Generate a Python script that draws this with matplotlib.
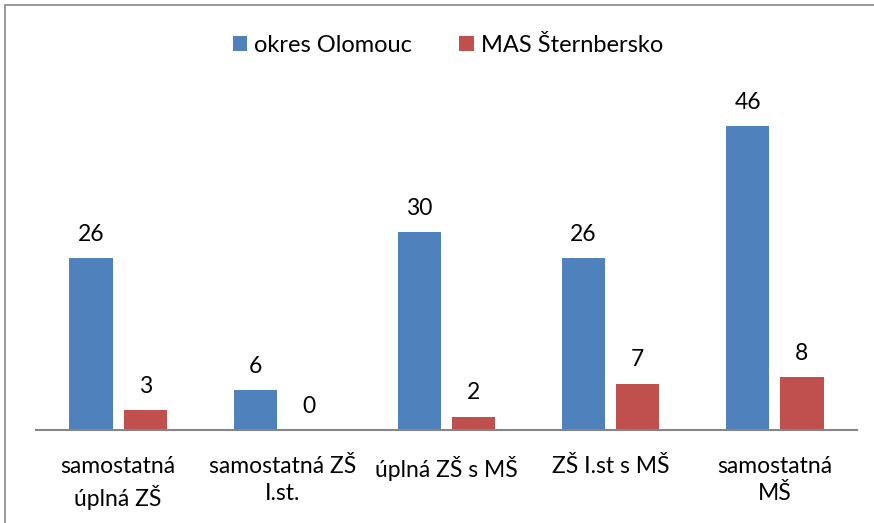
import matplotlib
matplotlib.use("Agg")
import matplotlib.pyplot as plt
import numpy as np
from matplotlib.patches import Rectangle

categories = ["samostatná\núplná ZŠ", "samostatná ZŠ\nI.st.", "úplná ZŠ s MŠ", "ZŠ I.st s MŠ", "samostatná\nMŠ"]
series_names = ["okres Olomouc", "MAS Šternbersko"]
okres = [26, 6, 30, 26, 46]
mas = [3, 0, 2, 7, 8]
colors = ["#4F81BD", "#C0504D"]

plt.rcParams['font.family'] = ['Lato', 'DejaVu Sans']
FS = 16.5

fig = plt.figure(figsize=(8.74, 5.23), dpi=100)
ax = fig.add_axes([36/874, 1-430/523, 821/874, 330/523])

x = np.arange(len(categories))
w = 0.262
off = 0.165
b1 = ax.bar(x - off, okres, width=w, color=colors[0], label=series_names[0])
b2 = ax.bar(x + off, mas, width=w, color=colors[1], label=series_names[1])

for bars, vals in ((b1, okres), (b2, mas)):
    for rect, v in zip(bars, vals):
        ax.annotate(str(v), (rect.get_x() + rect.get_width()/2, rect.get_height()),
                    xytext=(0, 12.5), textcoords='offset points', ha='center', va='baseline',
                    fontsize=FS, color='black')

ax.set_xlim(-0.5, len(categories) - 0.5)
ax.set_ylim(0, 50)
ax.set_xticks(x)
ax.set_xticklabels(categories, fontsize=FS, linespacing=1.35)
ax.tick_params(axis='x', length=0, pad=19)
ax.set_yticks([])
for s in ['top', 'right', 'left']:
    ax.spines[s].set_visible(False)
ax.spines['bottom'].set_color('#868686')
ax.spines['bottom'].set_linewidth(1.5)

leg = fig.legend(handles=[b1, b2], labels=series_names, loc='center', bbox_to_anchor=(448/874, 1-45/523),
                 ncol=2, frameon=False, fontsize=FS + 0.5, handlelength=0.6, handleheight=0.6,
                 handletextpad=0.3, columnspacing=2.0)

fig.patches.append(Rectangle((5/874, -0.1), 1.2, 1.1 - 5/523, transform=fig.transFigure,
                             fill=False, edgecolor='#888888', linewidth=1.2))

fig.savefig("out.png", dpi=100)
